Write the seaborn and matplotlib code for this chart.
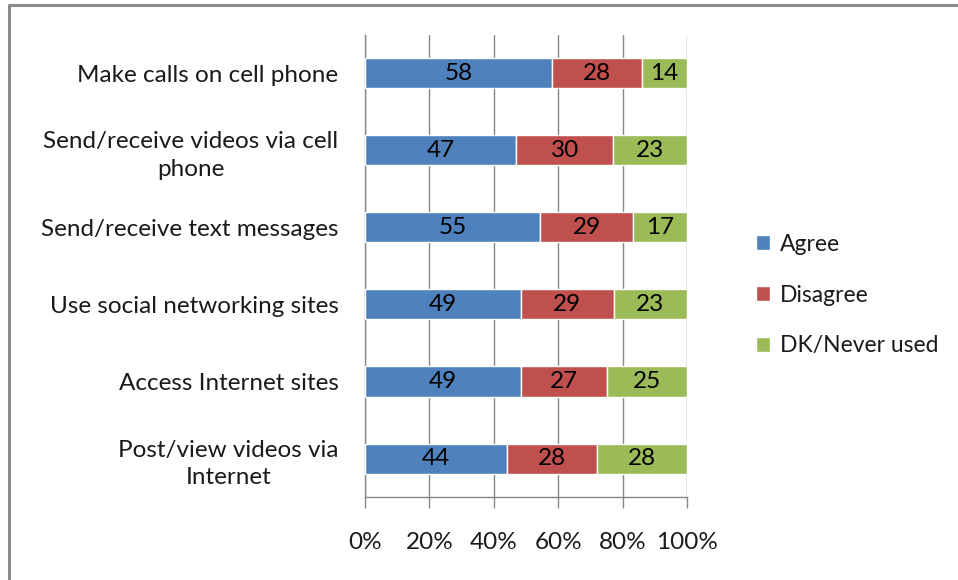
import pandas as pd
import matplotlib.pyplot as plt
import seaborn as sns
from matplotlib.lines import Line2D

categories = [
    "Make calls on cell phone",
    "Send/receive videos via cell\nphone",
    "Send/receive text messages",
    "Use social networking sites",
    "Access Internet sites",
    "Post/view videos via\nInternet",
]
agree = [58, 47, 55, 49, 49, 44]
disagree = [28, 30, 29, 29, 27, 28]
dk_never = [14, 23, 17, 23, 25, 28]
series_names = ["Agree", "Disagree", "DK/Never used"]
colors = ["#4F81BD", "#C0504D", "#9BBB59"]
x_ticks = [0, 20, 40, 60, 80, 100]

df = pd.DataFrame({"Agree": agree, "Disagree": disagree, "DK/Never used": dk_never},
                  index=categories)
pct = df.div(df.sum(axis=1), axis=0) * 100

sns.set_style("white")
plt.rcParams["font.family"] = ["Lato", "DejaVu Sans"]
FS = 17.5

fig = plt.figure(figsize=(9.58, 5.8), dpi=100)
ax = fig.add_axes([0.381, 0.143, 0.336, 0.797])

left = pd.Series(0.0, index=categories)
for name, color in zip(series_names, colors):
    long = pct[name].reset_index()
    long.columns = ["cat", "val"]
    long["left"] = left.values
    bars = ax.barh(long["cat"], long["val"], left=long["left"], height=0.39,
                   color=color, label=name, zorder=3)
    ax.bar_label(bars, labels=[str(v) for v in df[name]], label_type="center",
                 fontsize=FS, color="black")
    left = left + pct[name]

ax.set_xlim(0, 100)
ax.set_ylim(len(categories) - 0.5, -0.5)
ax.set_xticks(x_ticks)
ax.set_xticklabels([f"{t}%" for t in x_ticks], fontsize=FS, color="#1a1a1a")
ax.xaxis.set_tick_params(pad=17)
ax.set_yticks(range(len(categories)))
ax.set_yticklabels(categories, fontsize=FS, color="#1a1a1a", ha="right",
                   multialignment="center", linespacing=1.4)
ax.yaxis.set_tick_params(length=0, pad=19)
# category boundary ticks on the y axis
ax.set_yticks([i - 0.5 for i in range(len(categories) + 1)], minor=True)
ax.tick_params(axis="y", which="minor", length=6, color="#868686", width=1,
               direction="out")
ax.tick_params(axis="x", which="major", length=8, color="#868686", width=1,
               direction="out", bottom=True)

ax.grid(axis="x", color="#868686", linewidth=1, zorder=0)
for side in ["top", "right"]:
    ax.spines[side].set_visible(False)
for side in ["left", "bottom"]:
    ax.spines[side].set_color("#868686")
    ax.spines[side].set_linewidth(1)

leg = ax.legend(loc="center left", bbox_to_anchor=(1.15, 0.437), frameon=False,
                fontsize=16.5, handlelength=0.6, handleheight=0.6,
                handletextpad=0.45, labelspacing=1.3)
for t in leg.get_texts():
    t.set_color("#1a1a1a")

fig.add_artist(Line2D([0.0094, 0.0094], [0.0, 0.991], transform=fig.transFigure,
                      color="#8c8c8c", linewidth=2.2))
fig.add_artist(Line2D([0.0094, 1.0], [0.991, 0.991], transform=fig.transFigure,
                      color="#8c8c8c", linewidth=2.2))

fig.savefig("out.png", dpi=100)
